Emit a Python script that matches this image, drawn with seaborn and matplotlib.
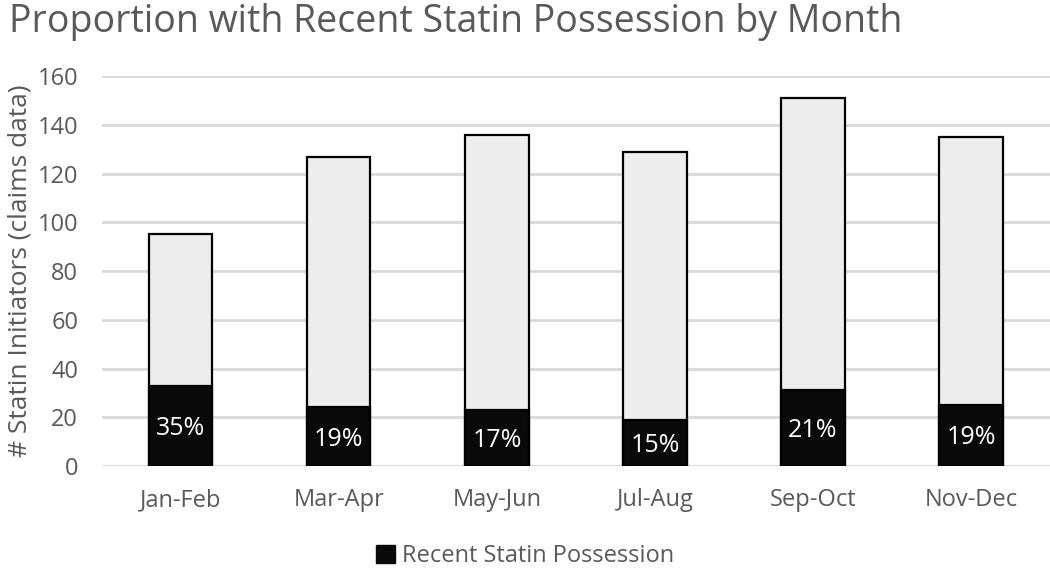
import pandas as pd
import matplotlib
matplotlib.use('Agg')
import matplotlib.pyplot as plt
import seaborn as sns
from matplotlib.patches import Patch

# chart data
months = ['Jan-Feb', 'Mar-Apr', 'May-Jun', 'Jul-Aug', 'Sep-Oct', 'Nov-Dec']
total_initiators = [95, 127, 136, 129, 151, 135]
recent_possession = [33, 24, 23, 19, 31, 25]
pct_labels = ['35%', '19%', '17%', '15%', '21%', '19%']

df = pd.DataFrame({'month': months, 'total': total_initiators, 'recent': recent_possession})

sns.set_style('white')
plt.rcParams['font.family'] = ['Open Sans', 'DejaVu Sans']
text_col = '#595959'

fig = plt.figure(figsize=(10.5, 5.7), dpi=100)
ax = fig.add_axes([0.097, 0.1825, 0.903, 0.684])

sns.barplot(data=df, x='month', y='total', color='#ededed', edgecolor='black',
            linewidth=1.6, width=0.4, saturation=1, ax=ax, zorder=3)
sns.barplot(data=df, x='month', y='recent', color='#0a0a0a', edgecolor='black',
            linewidth=1.6, width=0.4, saturation=1, ax=ax, zorder=4)

for i, (v, lab) in enumerate(zip(recent_possession, pct_labels)):
    ax.text(i, v / 2 - 1, lab, ha='center', va='center', color='white', fontsize=18, zorder=5)

ax.set_ylim(0, 160)
ax.set_xlim(-0.5, 5.5)
ax.set_yticks(range(0, 161, 20))
ax.yaxis.grid(True, color='#d9d9d9', linewidth=2)
ax.set_axisbelow(True)
for s in ax.spines.values():
    s.set_visible(False)
ax.tick_params(axis='both', length=0, labelsize=17, labelcolor=text_col)
ax.tick_params(axis='y', pad=17)
ax.tick_params(axis='x', pad=16)
ax.set_xlabel('')
ax.set_ylabel('# Statin Initiators (claims data)', fontsize=19, color=text_col, labelpad=4)

fig.text(0.009, 0.962, 'Proportion with Recent Statin Possession by Month', fontsize=27,
         color=text_col, ha='left', va='center')

handles = [Patch(facecolor='#0a0a0a', edgecolor='#0a0a0a', label='Recent Statin Possession')]
leg = fig.legend(handles=handles, loc='center', bbox_to_anchor=(0.5, 0.024), frameon=False,
                 fontsize=17, handlelength=0.8, handleheight=0.8, handletextpad=0.3)
for t in leg.get_texts():
    t.set_color(text_col)

fig.savefig('out.png', dpi=100)
